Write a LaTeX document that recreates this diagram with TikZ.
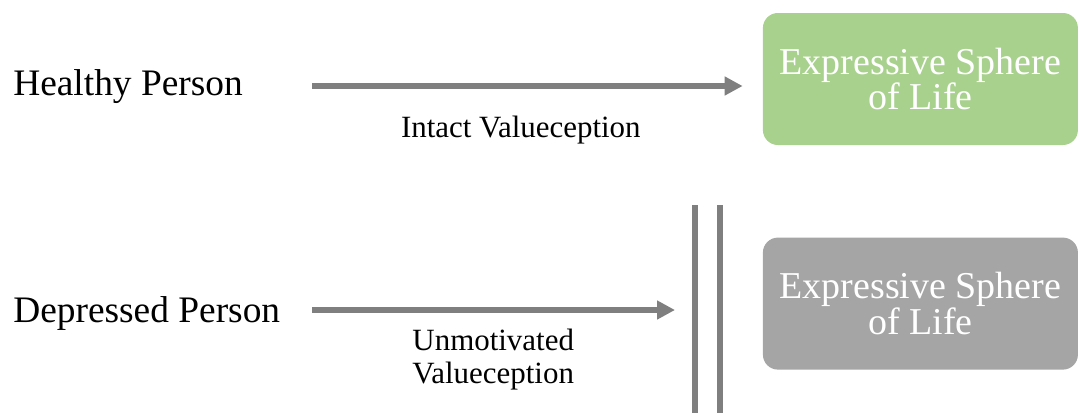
\documentclass[tikz,border=0pt]{standalone}
\usepackage{fontspec}
\setmainfont{Liberation Serif}
\usepackage{xcolor}
\usetikzlibrary{arrows.meta}
\definecolor{arrowgray}{HTML}{7F7F7F}
\definecolor{spheregreen}{HTML}{A9D18E}
\definecolor{spheregray}{HTML}{A5A5A5}

\begin{document}
\begin{tikzpicture}
\tikzstyle{person}=[inner sep=0pt, font=\fontsize{26.6}{28}\selectfont]
\tikzstyle{label}=[inner sep=0pt, align=center, font=\fontsize{22}{23.4}\selectfont]
\tikzstyle{sphere}=[rounded corners=0.375cm, minimum width=7.875cm,
                    minimum height=3.3cm, align=center, text=white,
                    font=\fontsize{27}{25.5}\selectfont]
\tikzstyle{arrow}=[arrowgray, line width=0.15cm,
                   -{Triangle[length=0.45cm, width=0.45cm]}]
\tikzstyle{wall}=[arrowgray, line width=0.15cm]
\useasboundingbox (0,0) rectangle (27,-10.3);

\node[person, anchor=base west] (healthy) at (0.325,-2.375) {Healthy Person};
\node[person, anchor=base west] (depressed) at (0.325,-8.05) {Depressed Person};
\node[sphere, fill=spheregreen] (green) at (23.01,-1.975) {Expressive Sphere\\of Life};
\node[sphere, fill=spheregray] (gray) at (23.01,-7.59) {Expressive Sphere\\of Life};
\node[label, anchor=base] (intact) at (13.02,-3.425) {Intact Valueception};
\node[label, anchor=base] (unmot) at (12.33,-9.575) {Unmotivated\\Valueception};

% arrow starts and the double wall
\coordinate (hs) at (7.8,-2.15);
\coordinate (ds) at (7.8,-7.75);
\coordinate (w1) at (17.375,-5.125);
\coordinate (w1b) at (17.375,-10.4);
\coordinate (w2) at (18,-5.125);
\coordinate (w2b) at (18,-10.4);

\draw[arrow, shorten >=0.5cm] (hs) -- (hs -| green.west);
\draw[arrow, shorten >=0.5cm] (ds) -- (ds -| w1);

% the wall blocks the way to the grey sphere
\draw[wall] (w1) -- (w1b);
\draw[wall] (w2) -- (w2b);
\end{tikzpicture}
\end{document}
